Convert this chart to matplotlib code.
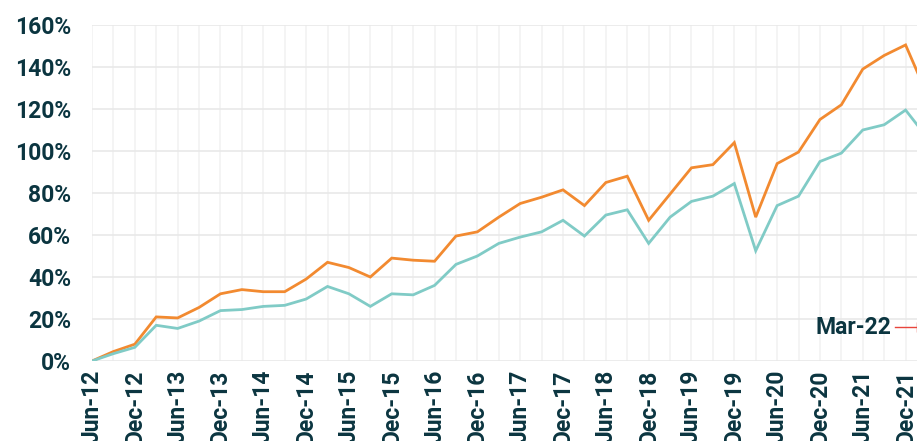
import matplotlib.pyplot as plt

# quarterly, Jun-12 .. Mar-22
quarters = []
for yr in range(12, 23):
    for m in ["Mar", "Jun", "Sep", "Dec"]:
        quarters.append(f"{m}-{yr:02d}")
quarters = quarters[1:quarters.index("Mar-22") + 1]

orange = [0, 4.5, 8, 21, 20.5, 25.5, 32, 34, 33, 33, 39, 47, 44.5, 40, 49, 48,
          47.5, 59.5, 61.5, 68.5, 75, 78, 81.5, 74, 85, 88, 67, 79.5, 92, 93.5,
          104, 68.5, 94, 99.5, 115, 122, 139, 145.5, 150.5, 127]
teal = [0, 3.5, 6.5, 17, 15.5, 19, 24, 24.5, 26, 26.5, 29.5, 35.5, 32, 26, 32, 31.5,
        36, 46, 50, 56, 59, 61.5, 67, 59.5, 69.5, 72, 56, 68.5, 76, 78.5,
        84.5, 52.5, 74, 78.5, 95, 99, 110, 112.5, 119.5, 106.5]

tick_labels = [q for q in quarters if q[:3] in ("Jun", "Dec") and q != "Mar-22"]
label_text = "Mar-22"
label_value = 16

dark = "#0b3540"
plt.rcParams['font.family'] = ['Roboto', 'DejaVu Sans']

fig = plt.figure(figsize=(9.17, 4.41), dpi=100)
ax = fig.add_axes([92 / 917, 80 / 441, (927 - 92) / 917, 336 / 441])

x = list(range(len(quarters)))
ax.plot(x, orange, color="#f28a30", lw=2.0, solid_joinstyle="miter", zorder=3)
ax.plot(x, teal, color="#80cbc6", lw=2.0, solid_joinstyle="miter", zorder=3)

ax.set_xlim(0, len(quarters) - 1)
ax.set_ylim(0, 160)
ax.set_yticks(range(0, 161, 20))
ax.set_yticklabels([f"{v}%" for v in range(0, 161, 20)])

ax.set_xticks(x, minor=True)
ax.set_xticks([quarters.index(t) for t in tick_labels])
ax.set_xticklabels(tick_labels, rotation=90)

ax.grid(True, which="major", axis="y", color="#e9e9e9", lw=1.2, zorder=0)
ax.grid(True, which="both", axis="x", color="#f2f2f2", lw=1.2, zorder=0)
ax.set_axisbelow(True)
for s in ax.spines.values():
    s.set_visible(False)
ax.tick_params(which="both", length=0)
ax.tick_params(axis="y", labelsize=16.5, labelcolor=dark, pad=15)
ax.tick_params(axis="x", labelsize=16.5, labelcolor=dark, pad=6)
for t in ax.get_xticklabels() + ax.get_yticklabels():
    t.set_fontweight("bold")

ax.text(37.33, label_value, label_text, ha="right", va="center", fontsize=16.5,
        fontweight="bold", color=dark, zorder=4)
ax.plot([37.5, 39.5], [label_value, label_value], color="#e8453c", lw=1,
        clip_on=False, zorder=4)
ax.plot([38.55], [label_value], marker="|", ms=7, mew=1, color="#e8453c",
        clip_on=False, zorder=4)

fig.savefig("out.png", dpi=100)
